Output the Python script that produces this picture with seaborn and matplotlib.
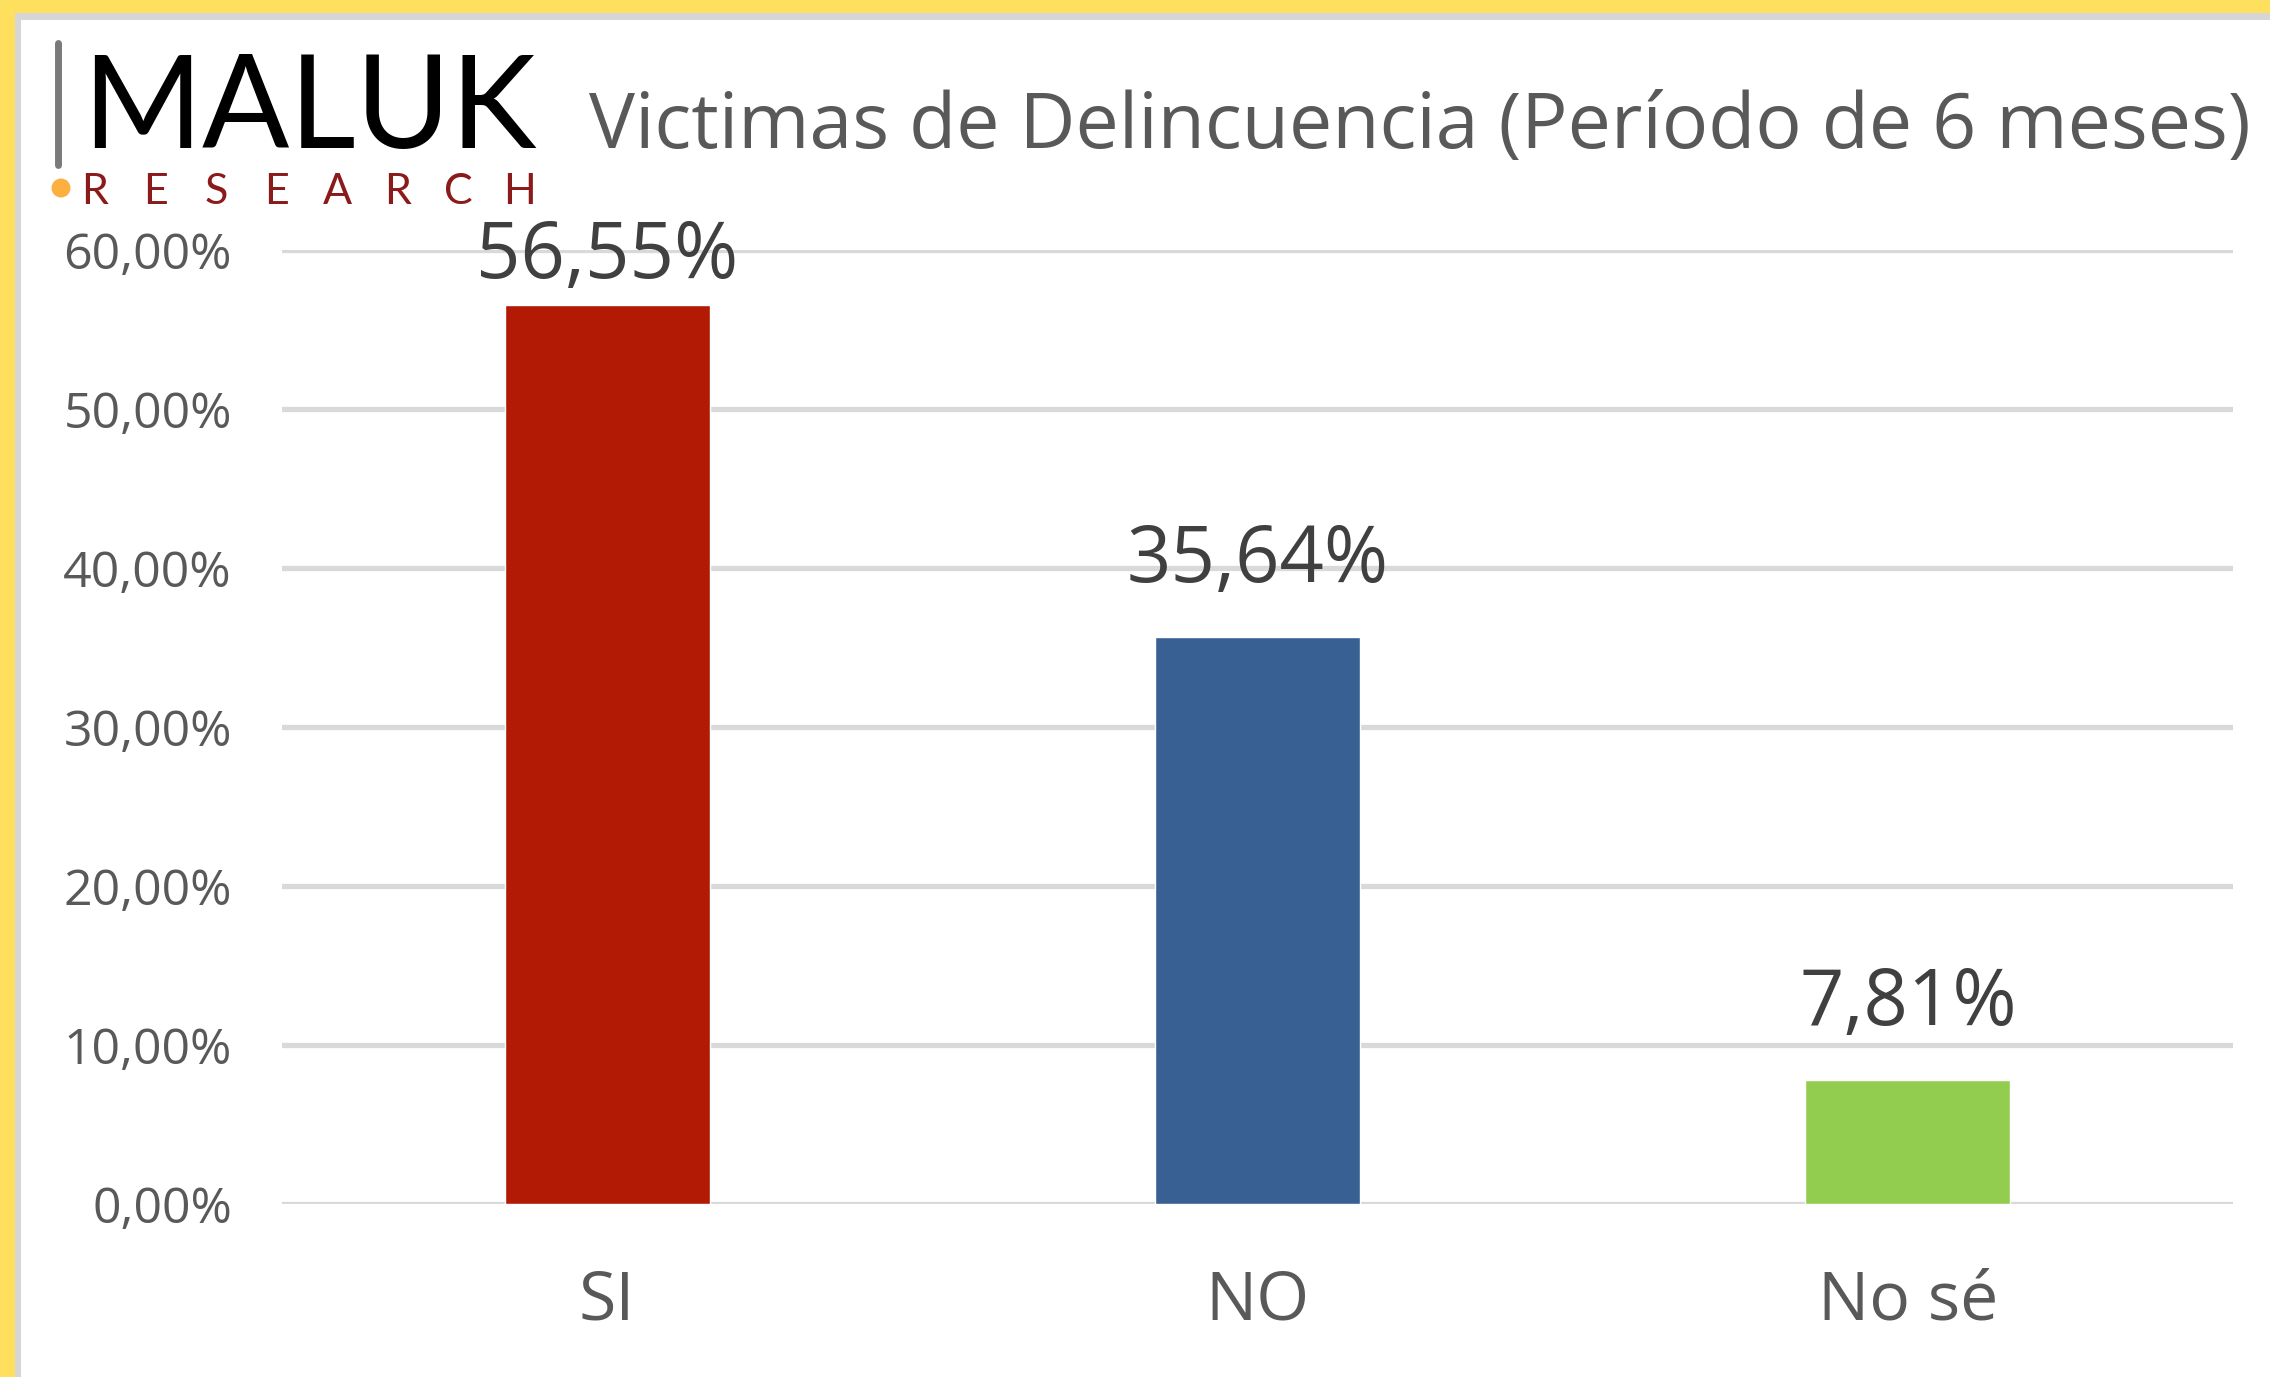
import matplotlib
matplotlib.use("Agg")
import matplotlib.pyplot as plt
import seaborn as sns
import pandas as pd
from matplotlib.patches import Rectangle, Ellipse
from matplotlib.lines import Line2D

# Data
categories = ["SI", "NO", "No sé"]
values = [56.55, 35.64, 7.81]
bar_colors = ["#B31A06", "#386092", "#92CD50"]
y_ticks = [0, 10, 20, 30, 40, 50, 60]
title = "Victimas de Delincuencia (Período de 6 meses)"

# label offsets above the bars (points), the top one sits closer to its bar
label_pad = [6, 26, 26]

sns.set_theme(style="white")
plt.rcParams["font.family"] = ["Open Sans", "DejaVu Sans"]

W, H = 2270, 1377
fig = plt.figure(figsize=(W / 100, H / 100), dpi=100)
fig.patch.set_facecolor("white")

# yellow frame with grey inner line
fig.add_artist(Rectangle((0, 1 - 13 / H), 1, 13 / H, transform=fig.transFigure, color="#FFDF5E", lw=0))
fig.add_artist(Rectangle((0, 0), 15 / W, 1, transform=fig.transFigure, color="#FFDF5E", lw=0))
fig.add_artist(Rectangle((15 / W, 1 - 20 / H), 1, 7 / H, transform=fig.transFigure, color="#D6D6D6", lw=0))
fig.add_artist(Rectangle((15 / W, 0), 6 / W, 1 - 13 / H, transform=fig.transFigure, color="#D6D6D6", lw=0))

ax = fig.add_axes([282 / W, 1 - 1204 / H, (2233 - 282) / W, (1204 - 250) / H])

df = pd.DataFrame({"cat": categories, "val": values})
sns.barplot(data=df, x="cat", y="val", hue="cat", palette=bar_colors,
            width=0.315, saturation=1, legend=False, ax=ax)

ax.set_xlim(-0.5, 2.5)
ax.set_ylim(0, 60)
ax.set_yticks(y_ticks)
ax.set_yticklabels([f"{t:.2f}%".replace(".", ",") for t in y_ticks])
ax.set_xlabel("")
ax.set_ylabel("")
ax.yaxis.grid(True, color="#D9D9D9", linewidth=3.8)
ax.set_axisbelow(True)
for s in ax.spines.values():
    s.set_visible(False)
ax.tick_params(axis="y", length=0, pad=36, labelsize=36, labelcolor="#595959")
ax.tick_params(axis="x", length=0, pad=46, labelsize=49, labelcolor="#595959")

for cont, v, p in zip(ax.containers, values, label_pad):
    ax.bar_label(cont, labels=[f"{v:.2f}%".replace(".", ",")], padding=p,
                 fontsize=56, color="#404040", clip_on=False)

# title
fig.text(589 / W, 1 - 148 / H, title, fontsize=55.5, color="#595959", ha="left", va="baseline")

# logo
fig.add_artist(Line2D([58 / W, 58 / W], [1 - 43 / H, 1 - 165 / H], transform=fig.transFigure,
                      color="#7A7A7A", lw=5))
fig.text(82 / W, 1 - 148 / H, "MALUK", fontsize=93, color="black", ha="left", va="baseline",
         family="Lato")
letter_x = [95 + i * 60.6 for i in range(8)]
for ch, lx in zip("RESEARCH", letter_x):
    fig.text(lx / W, 1 - 204 / H, ch, fontsize=31, color="#8B1A1A", ha="center", va="baseline",
             family="Lato")
fig.add_artist(Ellipse((61 / W, 1 - 188 / H), 19 / W, 19 / H, transform=fig.transFigure,
                       color="#FBB040", lw=0))

fig.savefig("out.png", dpi=100, facecolor="white")
